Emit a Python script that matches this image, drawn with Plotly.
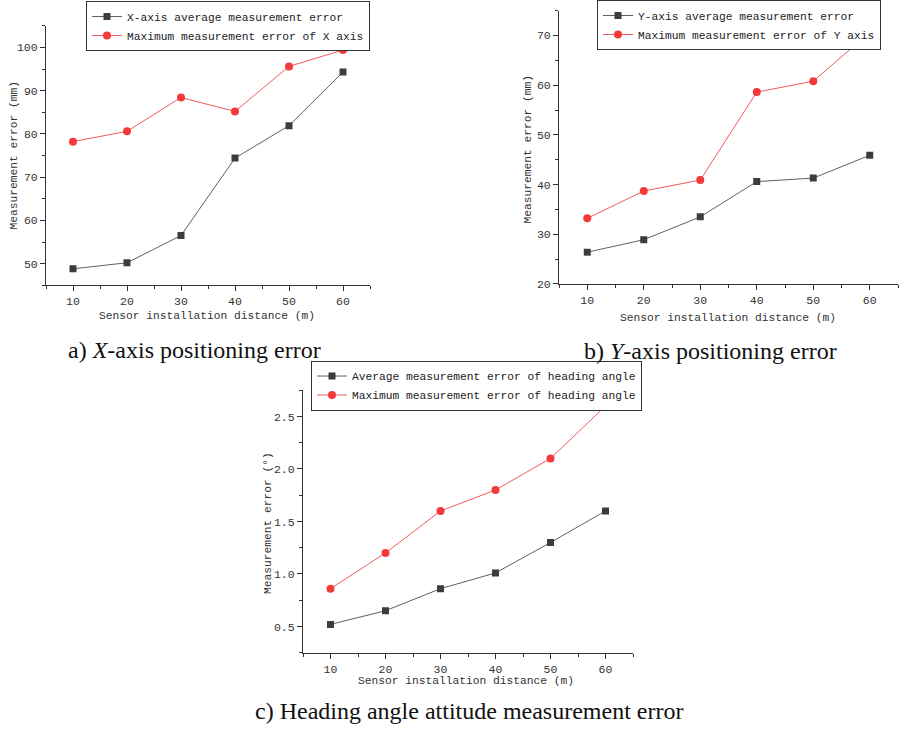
import plotly.graph_objects as go

# ---------------- data ----------------
distance = [10, 20, 30, 40, 50, 60]

x_avg_err = [48.8, 50.2, 56.5, 74.4, 81.9, 94.3]
x_max_err = [78.2, 80.6, 88.4, 85.2, 95.6, 99.4]

y_avg_err = [26.4, 28.9, 33.5, 40.6, 41.3, 45.9]
y_max_err = [33.2, 38.7, 40.9, 58.6, 60.8, 70.6]

h_avg_err = [0.52, 0.65, 0.86, 1.01, 1.30, 1.60]
h_max_err = [0.86, 1.20, 1.60, 1.80, 2.10, 2.60]

names_a = ["X-axis average measurement error", "Maximum measurement error of X axis"]
names_b = ["Y-axis average measurement error", "Maximum measurement error of Y axis"]
names_c = ["Average measurement error of heading angle", "Maximum measurement error of heading angle"]

captions = ["a) <i>X</i>-axis positioning error",
            "b) <i>Y</i>-axis positioning error",
            "c) Heading angle attitude measurement error"]
x_title = "Sensor installation distance (m)"
y_titles = ["Measurement error (mm)", "Measurement error (mm)", "Measurement error (°)"]

# ---------------- layout helpers ----------------
W, H = 900, 735
def px(x):
    return x / W
def py(y):
    return 1 - y / H

MONO = "Liberation Mono, DejaVu Sans Mono, monospace"
TICKF = dict(family="Liberation Sans Narrow, Liberation Mono, monospace", size=11.5, color="#333333")
DARK_M = "#3c3c3c"
DARK_L = "#606060"
RED_M = "#f23a3a"
RED_L = "#f25a5a"

fig = go.Figure()

panels = [
    dict(avg=x_avg_err, mx=x_max_err, names=names_a, xd=(46, 370), yd=(26, 288),
         yr=[45, 105], ydt=10, ymin=5, yfmt="", leg=(86, 1)),
    dict(avg=y_avg_err, mx=y_max_err, names=names_b, xd=(559, 898), yd=(10.7, 286.7),
         yr=[20, 75], ydt=10, ymin=5, yfmt="", leg=(597, 0)),
    dict(avg=h_avg_err, mx=h_max_err, names=names_c, xd=(303, 633), yd=(394, 659),
         yr=[0.25, 2.75], ydt=0.5, ymin=0.25, yfmt=".1f", leg=(311, 364)),
]

layout = dict(
    width=W, height=H, margin=dict(l=0, r=0, t=0, b=0),
    paper_bgcolor="white", plot_bgcolor="white",
    showlegend=True, annotations=[],
)

for i, p in enumerate(panels):
    n = "" if i == 0 else str(i + 1)
    legname = "legend" if i == 0 else "legend" + str(i + 1)
    fig.add_trace(go.Scatter(
        x=distance, y=p["avg"], mode="lines+markers", name=p["names"][0],
        xaxis="x" + n, yaxis="y" + n, legend=legname,
        line=dict(color=DARK_L, width=1),
        marker=dict(symbol="square", size=7, color=DARK_M),
    ))
    fig.add_trace(go.Scatter(
        x=distance, y=p["mx"], mode="lines+markers", name=p["names"][1],
        xaxis="x" + n, yaxis="y" + n, legend=legname,
        line=dict(color=RED_L, width=1),
        marker=dict(symbol="circle", size=8, color=RED_M),
    ))
    layout["xaxis" + n] = dict(
        domain=[px(p["xd"][0]), px(p["xd"][1])], anchor="y" + n,
        range=[5, 65], tick0=10, dtick=10, ticks="outside", ticklen=5, tickwidth=1,
        tickcolor="#333333", showline=True, linecolor="#333333", linewidth=1,
        showgrid=False, zeroline=False, tickfont=TICKF,
        minor=dict(tick0=5, dtick=10, ticks="outside", ticklen=3, tickcolor="#333333"),
    )
    layout["yaxis" + n] = dict(
        domain=[py(p["yd"][1]), py(p["yd"][0])], anchor="x" + n,
        range=p["yr"], tick0=0, dtick=p["ydt"], ticks="outside", ticklen=5, tickwidth=1,
        tickcolor="#333333", showline=True, linecolor="#333333", linewidth=1,
        showgrid=False, zeroline=False, tickfont=TICKF, tickformat=p["yfmt"],
        minor=dict(tick0=0, dtick=p["ymin"], ticks="outside", ticklen=3, tickcolor="#333333"),
    )
    layout[legname] = dict(
        x=px(p["leg"][0]), y=py(p["leg"][1]), xanchor="left", yanchor="top",
        bgcolor="white", bordercolor="#333333", borderwidth=1,
        font=dict(family=MONO, size=11.25, color="#222222"),
        itemwidth=30, tracegroupgap=0,
    )

# axis titles (x)
for cx, cy in [(207, 319), (728, 321), (466, 688)]:
    layout["annotations"].append(dict(
        text=x_title, x=px(cx), y=py(cy), xref="paper", yref="paper",
        xanchor="center", yanchor="middle", showarrow=False,
        font=dict(family=MONO, size=11.25, color="#333333")))
# axis titles (y)
for (cx, cy), t in zip([(14, 157), (528, 151), (268, 528)], y_titles):
    layout["annotations"].append(dict(
        text=t, x=px(cx), y=py(cy), xref="paper", yref="paper", textangle=-90,
        xanchor="center", yanchor="middle", showarrow=False,
        font=dict(family=MONO, size=11.25, color="#333333")))
# captions
for (cx, cy), t in zip([(194, 353), (710, 354), (469, 718)], captions):
    layout["annotations"].append(dict(
        text=t, x=px(cx), y=py(cy), xref="paper", yref="paper",
        xanchor="center", yanchor="middle", showarrow=False,
        font=dict(family="Liberation Serif, Times New Roman, serif", size=24, color="#111111")))

fig.update_layout(**layout)
fig.write_html("out.html")
